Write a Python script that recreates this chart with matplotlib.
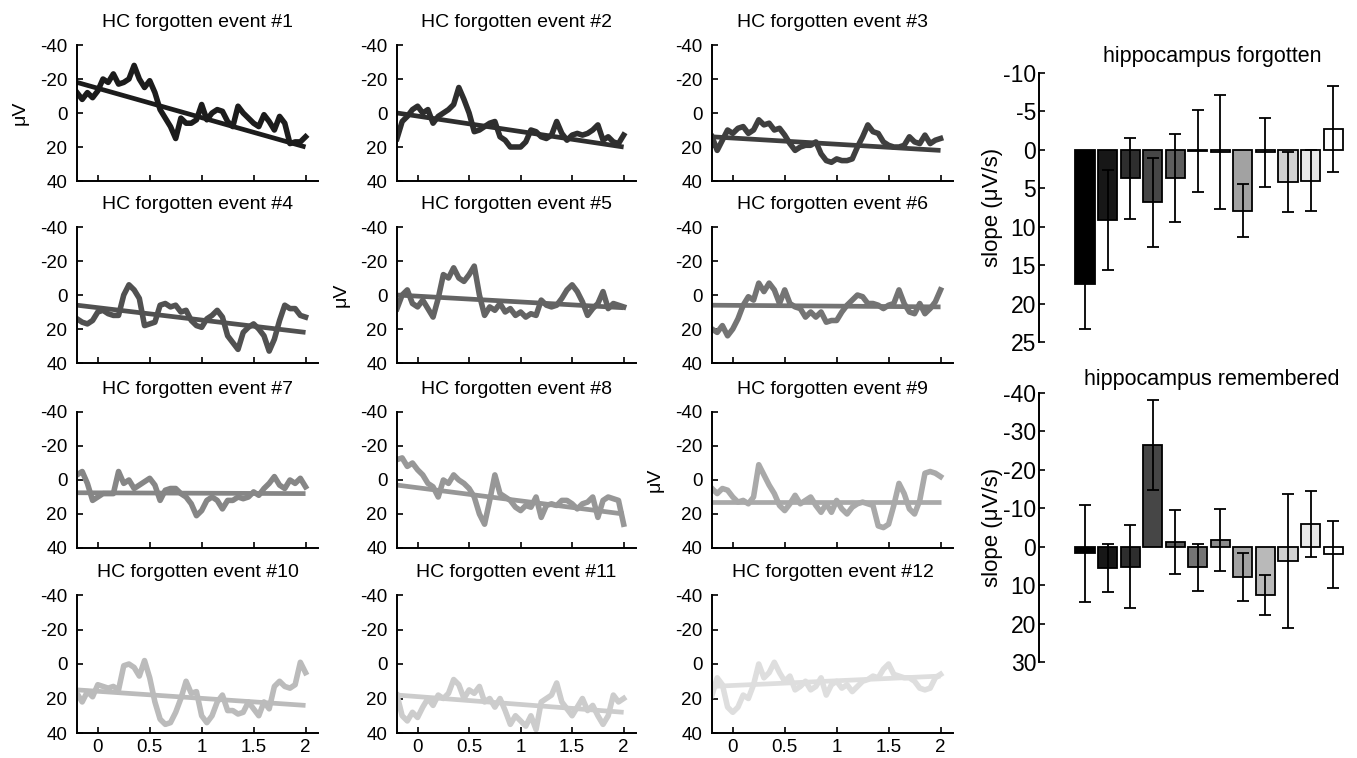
import numpy as np
import matplotlib.pyplot as plt

plt.rcParams['font.family'] = ['Liberation Sans', 'DejaVu Sans']
plt.rcParams['axes.unicode_minus'] = False

# ---- traces (uV), sampled every 0.05 s from -0.2 to 2.0 s ----
t_start, t_end = -0.2, 2.0

ev1 = [-12, -8, -12, -9, -13, -20, -18, -23, -17, -18, -20, -28, -20, -15, -19,
       -12, -2, 3, 8, 15, 3, 6, 6, 4, -5, 4, 0, -2, -1, 5, 8, -4, 0, 3, 6,
       8, 1, 5, 10, 2, 6, 18, 17, 17, 14]
ev2 = [15, 5, 2, -2, -4, 0, -2, 6, 2, 0, -2, -5, -15, -8, 0, 11, 10, 8, 6, 5,
       14, 16, 20, 20, 20, 17, 10, 11, 14, 15, 13, 5, 12, 16, 13, 12, 13, 12,
       10, 7, 16, 14, 17, 18, 13]
ev3 = [14, 22, 16, 10, 12, 9, 8, 12, 10, 4, 7, 6, 10, 9, 13, 18, 22, 20, 19,
       19, 17, 24, 28, 29, 27, 28, 28, 27, 20, 14, 7, 11, 12, 17, 19, 20, 20,
       19, 14, 17, 18, 13, 18, 16, 15]
ev4 = [14, 16, 17, 15, 10, 9, 11, 12, 12, 0, -6, -3, 2, 18, 17, 16, 6, 5, 7,
       6, 10, 9, 15, 18, 19, 14, 12, 9, 13, 24, 28, 32, 22, 19, 17, 20, 24,
       33, 26, 15, 6, 8, 8, 12, 13]
ev5 = [8, 0, -3, 5, 7, 3, 8, 13, 2, -12, -10, -16, -10, -8, -12, -17, 0, 12,
       7, 9, 5, 10, 8, 12, 10, 13, 11, 12, 3, 6, 7, 6, 2, -3, -6, -2, 4, 12,
       8, 5, -2, 8, 5, 6, 7]
ev6 = [20, 22, 18, 24, 20, 14, 6, 1, 3, -7, -2, -7, -3, 5, -3, 5, 7, 8, 13,
       10, 13, 10, 16, 15, 15, 10, 6, 3, 0, 1, 5, 5, 6, 8, 6, 5, -3, 5, 10,
       11, 5, 11, 8, 4, -3]
ev7 = [-3, -5, 2, 12, 10, 8, 8, 8, -5, 2, 0, 5, 3, 1, -1, 3, 12, 6, 5, 5, 8,
       10, 14, 21, 18, 12, 10, 12, 17, 12, 12, 10, 11, 10, 7, 9, 5, 2, -2, 3,
       5, 0, 2, -1, 4]
ev8 = [-12, -13, -8, -10, -6, -3, 2, 4, 10, 0, 2, -3, 0, 2, 5, 10, 20, 26, 12,
       -3, 8, 10, 12, 16, 18, 15, 16, 10, 22, 15, 14, 15, 12, 12, 14, 17, 14,
       13, 10, 22, 12, 10, 11, 12, 26]
ev9 = [5, 8, 5, 6, 10, 13, 12, 14, 10, -9, -3, 3, 8, 15, 18, 14, 9, 14, 12,
       10, 15, 19, 14, 19, 12, 17, 20, 16, 14, 13, 14, 15, 27, 28, 26, 15, 2,
       8, 17, 20, 12, -4, -5, -4, -2]
ev10 = [17, 22, 16, 19, 12, 13, 14, 13, 15, 1, 0, 2, 7, -2, 8, 22, 32, 35, 34,
        28, 20, 10, 17, 16, 30, 34, 30, 22, 18, 27, 27, 29, 28, 22, 26, 30, 22,
        26, 13, 10, 13, 14, 12, -1, 5]
ev11 = [18, 30, 33, 28, 31, 25, 20, 24, 18, 20, 17, 9, 12, 20, 15, 17, 13, 22,
        20, 25, 20, 27, 35, 30, 33, 36, 30, 38, 22, 20, 18, 11, 22, 26, 30, 25,
        20, 27, 24, 30, 35, 30, 18, 22, 20]
ev12 = [18, 8, 12, 25, 28, 25, 18, 20, 12, 0, 8, 5, -1, 5, 10, 7, 15, 13, 10,
        15, 13, 8, 18, 12, 10, 14, 12, 16, 13, 10, 9, 7, 8, 3, 0, 6, 7, 8, 8,
        10, 14, 15, 14, 8, 6]

# regression line values at t_start / t_end
fit_start = [-18, 0, 14, 6, 0, 6, 7.5, 3, 13, 15, 18, 13]
fit_end = [20, 20, 22, 22, 7.5, 7, 8, 20, 13, 24, 28, 7]

# slopes per event (uV/s) with error
forgotten = [17.5, 9.1, 3.7, 6.8, 3.7, 0.15, 0.3, 7.9, 0.3, 4.2, 4.0, -2.7]
forgotten_err = [5.8, 6.5, 5.3, 5.8, 5.7, 5.3, 7.4, 3.5, 4.5, 3.9, 4.0, 5.6]
remembered = [1.7, 5.5, 5.2, -26.5, -1.3, 5.4, -1.7, 7.8, 12.6, 3.7, -5.9, 2.0]
remembered_err = [12.6, 6.2, 10.8, 11.7, 8.3, 6.0, 8.0, 6.2, 5.2, 17.4, 8.6, 8.7]

traces = [ev1, ev2, ev3, ev4, ev5, ev6, ev7, ev8, ev9, ev10, ev11, ev12]

W, H = 1357, 758
fig = plt.figure(figsize=(W / 100, H / 100), dpi=100)


def add_ax(l, t, r, b):
    return fig.add_axes([l / W, 1 - b / H, (r - l) / W, (b - t) / H])


def style(ax):
    for s in ['top', 'right']:
        ax.spines[s].set_visible(False)
    for s in ['left', 'bottom']:
        ax.spines[s].set_linewidth(1.4)


col_x = [(77, 318), (397, 636), (712, 953)]
row_y = [(45, 181), (227, 363), (412, 548), (595, 733)]
shades = np.linspace(0.11, 0.87, 12)

for i, ev in enumerate(traces):
    r, c = divmod(i, 3)
    ax = add_ax(col_x[c][0], row_y[r][0], col_x[c][1], row_y[r][1])
    col = str(shades[i])
    t = np.linspace(t_start, t_end, len(ev))
    ax.plot(t, ev, color=col, lw=4.0, solid_joinstyle='round')
    ax.plot([t_start, t_end], [fit_start[i], fit_end[i]], color=col, lw=3.4,
            solid_capstyle='butt')
    ax.set_xlim(-0.2, 2.12)
    ax.set_ylim(40, -40)
    ax.set_yticks([-40, -20, 0, 20, 40])
    ax.set_xticks([0, 0.5, 1, 1.5, 2])
    ax.set_xticklabels(['0', '0.5', '1', '1.5', '2'])
    style(ax)
    ax.tick_params(direction='in', length=4, width=1.2, labelsize=13.5)
    ax.tick_params(axis='y', pad=7)
    ax.tick_params(axis='x', pad=4)
    if r < 3:
        ax.tick_params(axis='x', labelbottom=False)
    ax.set_title(f'HC forgotten event #{i + 1}', fontsize=14, pad=13)
    if i in (0, 4, 8):
        ax.set_ylabel('μV', fontsize=14)
        ax.yaxis.set_label_coords(-0.2, 0.5)

# ---- bar charts ----
pos = np.arange(1, 13)
bar_shades = [str(g) for g in np.linspace(0, 1, 12)]

bar_specs = [
    ((1039, 73, 1385, 342), forgotten, forgotten_err, (25, -10),
     np.arange(-10, 26, 5), 'hippocampus forgotten', 8),
    ((1039, 393, 1385, 662), remembered, remembered_err, (30, -40),
     np.arange(-40, 31, 10), 'hippocampus remembered', 6),
]

for box, vals, errs, ylim, yt, title, tpad in bar_specs:
    ax = add_ax(*box)
    ax.bar(pos, vals, width=0.85, color=bar_shades, edgecolor='black', lw=1.3)
    ax.errorbar(pos, vals, yerr=errs, fmt='none', ecolor='black',
                elinewidth=1.3, capsize=4, capthick=1.3)
    ax.set_xlim(-1.04, 14.3)
    ax.set_ylim(*ylim)
    ax.set_yticks(yt)
    ax.set_xticks([])
    style(ax)
    ax.spines['bottom'].set_visible(False)
    ax.tick_params(direction='in', length=4, width=1.2, labelsize=16.5, pad=2)
    ax.set_title(title, fontsize=15.5, pad=tpad)
    ax.set_ylabel('slope (μV/s)', fontsize=16)
    ax.yaxis.set_label_coords(-0.104, 0.5)

fig.savefig('out.png', dpi=100)
